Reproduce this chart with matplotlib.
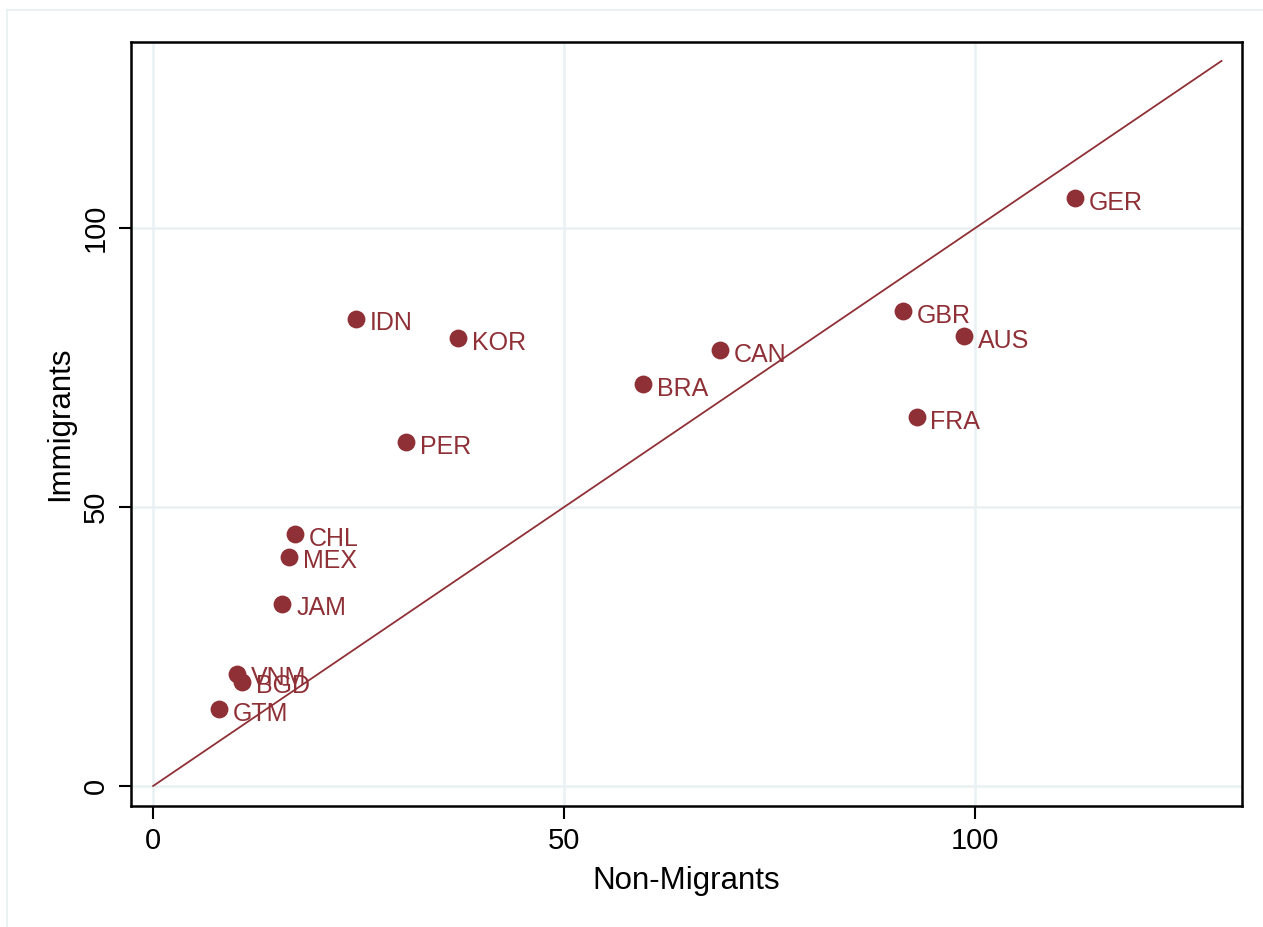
import matplotlib
matplotlib.use("Agg")
import matplotlib.pyplot as plt
from matplotlib.lines import Line2D

plt.rcParams['font.family'] = ['Liberation Sans', 'DejaVu Sans']

# country codes and scores
countries = ['GER', 'GBR', 'AUS', 'FRA', 'CAN', 'BRA', 'KOR', 'IDN', 'PER',
             'CHL', 'MEX', 'JAM', 'VNM', 'BGD', 'GTM']
non_migrants = [112.2, 91.2, 98.7, 92.9, 69.0, 59.6, 37.1, 24.7, 30.8,
                17.3, 16.5, 15.7, 10.2, 10.8, 8.0]
immigrants = [105.4, 85.1, 80.6, 66.1, 78.1, 72.0, 80.3, 83.8, 61.6,
              45.1, 41.1, 32.7, 20.1, 18.7, 13.8]
diag = [0, 130]
ticks = [0, 50, 100]

maroon = '#8f3037'
grid_c = '#e9f1f3'

fig = plt.figure(figsize=(12.63, 9.27), dpi=100)
ax = fig.add_axes([0.1037, 0.1305, 0.8797, 0.8242])

# outer frame (only top and left edges show)
fig.add_artist(Line2D([7/1263, 1], [1 - 10/927, 1 - 10/927], transform=fig.transFigure,
                      color=grid_c, lw=1.5))
fig.add_artist(Line2D([7/1263, 7/1263], [0, 1 - 10/927], transform=fig.transFigure,
                      color=grid_c, lw=1.5))

ax.plot(diag, diag, color=maroon, lw=1.3, zorder=2)
ax.scatter(non_migrants, immigrants, s=165, color=maroon, zorder=3, linewidths=0)
for c, x, y in zip(countries, non_migrants, immigrants):
    ax.annotate(c, (x, y), xytext=(10, -1.5), textcoords='offset points',
                va='center_baseline', ha='left', fontsize=18, color=maroon, zorder=4)

ax.set_xlim(-2.7, 132.5)
ax.set_ylim(-3.6, 133.4)
ax.set_xticks(ticks)
ax.set_yticks(ticks)
ax.grid(True, color=grid_c, lw=1.8)
ax.set_axisbelow(True)
for s in ax.spines.values():
    s.set_linewidth(1.8)
ax.tick_params(length=9, width=1.5, labelsize=21, pad=6)
plt.setp(ax.get_yticklabels(), rotation=90, va='center')
ax.set_xlabel('Non-Migrants', fontsize=22.5, labelpad=8)
ax.set_ylabel('Immigrants', fontsize=22.5, labelpad=5)

fig.savefig('out.png', dpi=100)
